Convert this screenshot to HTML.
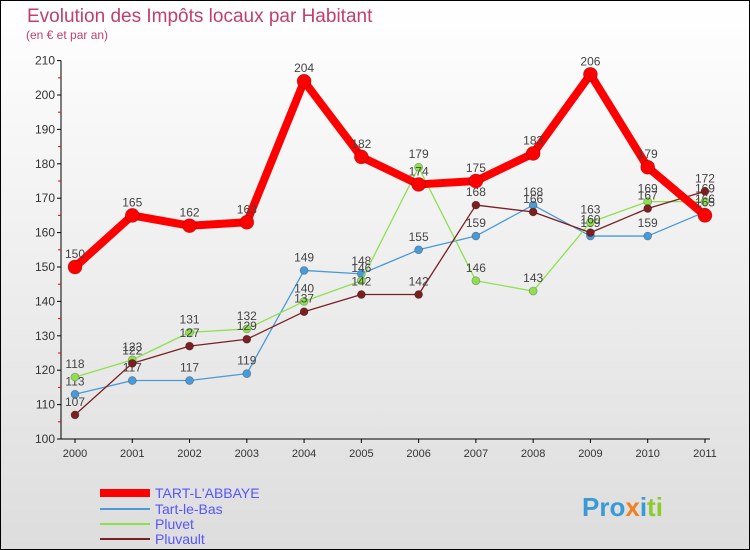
<!DOCTYPE html>
<html><head><meta charset="utf-8"><style>
body{margin:0;width:750px;height:550px;overflow:hidden;font-family:"Liberation Sans",sans-serif}
#c{position:absolute;left:0;top:0;width:748px;height:548px;border:1px solid #000;background:linear-gradient(#fff,#ddd)}
</style></head><body>
<div id="c"></div>
<svg id="s" width="750" height="550" style="position:absolute;left:0;top:0">
<text x="27" y="22" font-size="19" fill="#c0406a">Evolution des Impôts locaux par Habitant</text>
<text x="26" y="39" font-size="12" fill="#c0406a">(en € et par an)</text>
<g id="axes"></g><g id="series"></g>
<g font-size="14">
<line x1="100" y1="493" x2="150" y2="493" stroke="#f00" stroke-width="8"/><text x="155" y="498" fill="#55f">TART-L'ABBAYE</text>
<line x1="100" y1="509" x2="150" y2="509" stroke="#4a9ad8" stroke-width="2"/><text x="155" y="514" fill="#55f">Tart-le-Bas</text>
<line x1="100" y1="524" x2="150" y2="524" stroke="#8ee050" stroke-width="2"/><text x="155" y="529" fill="#55f">Pluvet</text>
<line x1="100" y1="539" x2="150" y2="539" stroke="#7a2020" stroke-width="2"/><text x="155" y="544" fill="#55f">Pluvault</text>
</g>
<text x="582" y="516" font-size="26" font-weight="bold"><tspan fill="#3a9ad8">Pro</tspan><tspan fill="#f08020">x</tspan><tspan fill="#3a9ad8">i</tspan><tspan fill="#8ccc30">ti</tspan></text>
</svg>
<script>
const years=["2000","2001","2002","2003","2004","2005","2006","2007","2008","2009","2010","2011"];
const yTicks=[100,110,120,130,140,150,160,170,180,190,200,210];
const tart=[150,165,162,163,204,182,174,175,183,206,179,165];
const tartLeBas=[113,117,117,119,149,148,155,159,168,159,159,166];
const pluvet=[118,123,131,132,140,146,179,146,143,163,169,169];
const pluvault=[107,122,127,129,137,142,142,168,166,160,167,172];
const NS="http://www.w3.org/2000/svg";
const X=i=>75+i*57.27, Y=v=>439-(v-100)*3.44;
function mk(t,a,p){const e=document.createElementNS(NS,t);for(const k in a)e.setAttribute(k,a[k]);p.appendChild(e);return e;}
const ax=document.getElementById('axes');
mk('line',{x1:61,y1:Y(100),x2:61,y2:Y(210),stroke:'#000'},ax);
mk('line',{x1:61,y1:Y(100),x2:X(11)+5,y2:Y(100),stroke:'#000'},ax);
yTicks.forEach(v=>{
 mk('line',{x1:57,y1:Y(v),x2:61,y2:Y(v),stroke:'#000'},ax);
 if(v<210)mk('line',{x1:58,y1:Y(v+5),x2:61,y2:Y(v+5),stroke:'#e00'},ax);
 const t=mk('text',{x:55,y:Y(v)+4,'font-size':12,fill:'#333','text-anchor':'end'},ax);
 
 
 t.textContent=v;
});
years.forEach((y,i)=>{
 mk('line',{x1:X(i),y1:Y(100),x2:X(i),y2:Y(100)+4,stroke:'#000'},ax);
 const t=mk('text',{x:X(i),y:Y(100)+18,'font-size':11,fill:'#333','text-anchor':'middle'},ax);
 
 
 t.textContent=y;
});
const sg=document.getElementById('series');
function draw(data,color,w,r,name){
 const g=mk('g',{},sg);
 
 
 mk('polyline',{points:data.map((v,i)=>X(i)+','+Y(v)).join(' '),fill:'none',stroke:color,'stroke-width':w,'stroke-linejoin':'round'},g);
 data.forEach((v,i)=>{
  const c=mk('circle',{cx:X(i),cy:Y(v),r:r,fill:color,stroke:'rgba(0,0,0,0.3)','stroke-width':0.7},g);
  
  
  const t=mk('text',{x:X(i),y:Y(v)-9,'font-size':12,fill:'#444','text-anchor':'middle'},g);
  
  
  t.textContent=v;
 });
}
draw(tartLeBas,'#4a9ad8',1.3,4,'series-tart-le-bas');
draw(pluvet,'#8ee050',1.3,4,'series-pluvet');
draw(pluvault,'#7a2020',1.3,4,'series-pluvault');
draw(tart,'#f00',8,7,'series-tart-labbaye');
</script>
</body></html>
